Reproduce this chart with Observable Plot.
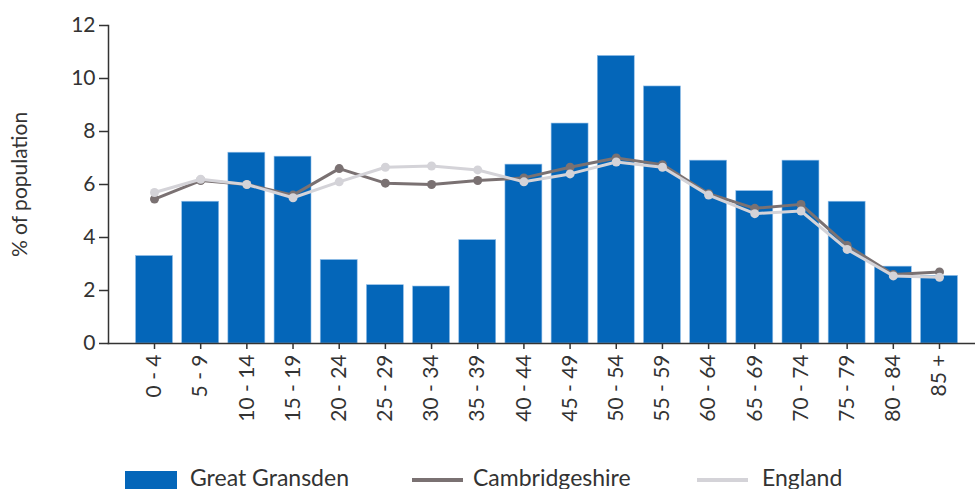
<!DOCTYPE html>
<html>
<head>
<meta charset="utf-8">
<script src="https://cdn.jsdelivr.net/npm/d3@7"></script>
<script src="https://cdn.jsdelivr.net/npm/@observablehq/plot@0.6"></script>
<style>
  body { margin: 0; background: #fff; font-family: Lato, "Open Sans", sans-serif; color: #333; overflow: hidden; }
  #legend { position: relative; height: 24px; margin-top: -5px; font-size: 23px; line-height: 23px; }
  .sw { position: absolute; }
  .txt { position: absolute; top: 1px; white-space: nowrap; }
</style>
</head>
<body>
<div id="chart"></div>
<div id="legend">
  <span class="sw" style="left:125px;top:6px;width:52px;height:22px;background:#0466b9"></span>
  <span class="txt" style="left:190px">Great Gransden</span>
  <span class="sw" style="left:412px;top:13px;width:51px;height:4px;background:#7a7172"></span>
  <span class="txt" style="left:473px">Cambridgeshire</span>
  <span class="sw" style="left:697px;top:13px;width:51px;height:4px;background:#d4d3d8"></span>
  <span class="txt" style="left:762px">England</span>
</div>
<script>
const ageGroups = ["0 - 4","5 - 9","10 - 14","15 - 19","20 - 24","25 - 29","30 - 34","35 - 39","40 - 44","45 - 49","50 - 54","55 - 59","60 - 64","65 - 69","70 - 74","75 - 79","80 - 84","85 +"];
const greatGransden = [3.3,5.35,7.2,7.05,3.15,2.2,2.15,3.9,6.75,8.3,10.85,9.7,6.9,5.75,6.9,5.35,2.9,2.55];
const cambridgeshire = [5.45,6.15,6.0,5.6,6.6,6.05,6.0,6.15,6.25,6.65,7.0,6.75,5.65,5.1,5.25,3.7,2.6,2.7];
const england = [5.7,6.2,6.0,5.5,6.1,6.65,6.7,6.55,6.1,6.4,6.85,6.65,5.6,4.9,5.0,3.55,2.55,2.5];
const yTicks = [0,2,4,6,8,10,12];

const rows = ageGroups.map((a, i) => ({age: a, gg: greatGransden[i], cam: cambridgeshire[i], eng: england[i]}));

const chart = Plot.plot({
  width: 975,
  height: 470,
  marginLeft: 108,
  marginRight: 0,
  marginTop: 25,
  marginBottom: 127,
  style: {fontFamily: "Lato, 'Open Sans', sans-serif", fontSize: "20px", color: "#333"},
  x: {type: "band", domain: ageGroups, range: [126.3, 966.7], paddingInner: 0.2, paddingOuter: 0.2, align: 0.5, round: false},
  y: {domain: [0, 12]},
  marks: [
    Plot.barY(rows, {x: "age", y: "gg", fill: "#0466b9", stroke: "#8fbde8", strokeWidth: 0.6}),
    Plot.line(rows, {x: "age", y: "cam", stroke: "#7a7172", strokeWidth: 3}),
    Plot.dot(rows, {x: "age", y: "cam", fill: "#7a7172", r: 4.5}),
    Plot.line(rows, {x: "age", y: "eng", stroke: "#d4d3d8", strokeWidth: 3}),
    Plot.dot(rows, {x: "age", y: "eng", fill: "#d4d3d8", r: 4.5}),
    Plot.frame({anchor: "left", stroke: "#333", strokeWidth: 1.5}),
    Plot.frame({anchor: "bottom", stroke: "#333", strokeWidth: 1.5}),
    Plot.axisY({ticks: yTicks, tickSize: 9, tickPadding: 4, stroke: "#333", strokeWidth: 1.5, fontSize: 21,
      label: "% of population", labelAnchor: "center", labelArrow: "none", labelOffset: 96}),
    Plot.axisX({tickSize: 6, tickPadding: 5, tickRotate: -90, stroke: "#333", strokeWidth: 1.5, label: null, fontSize: 21})
  ]
});
document.getElementById("chart").appendChild(chart);
</script>
</body>
</html>
